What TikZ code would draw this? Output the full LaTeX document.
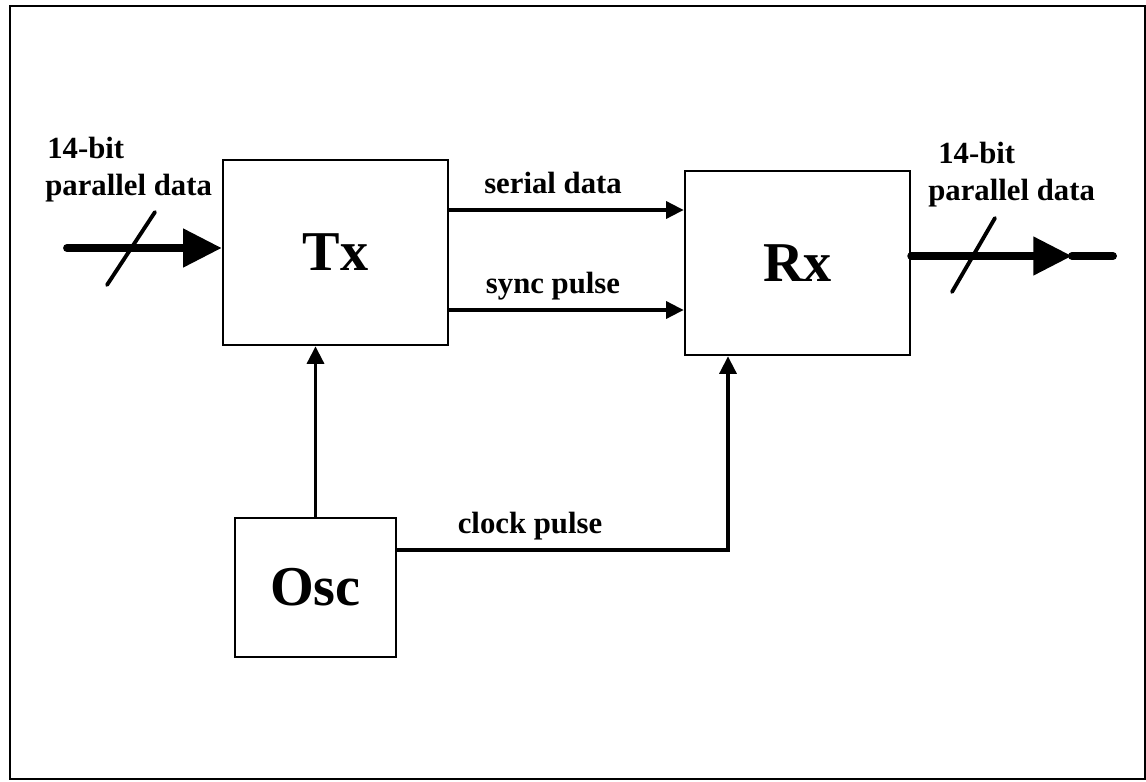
\documentclass[tikz,border=0pt]{standalone}
\usepackage{fontspec}
\setmainfont{Liberation Serif}
\usetikzlibrary{arrows.meta, positioning}

\begin{document}
\begin{tikzpicture}[x=0.02cm, y=-0.02cm,
  block/.style={draw, line width=1.4pt, font=\fontsize{32}{36}\selectfont\bfseries},
  sig/.style={line width=2.2pt, -{Triangle[length=10pt, width=9.5pt]}},
  bus/.style={line width=4.5pt, line cap=round},
  slash/.style={line width=2.2pt, line cap=round},
  lbl/.style={font=\fontsize{17.5}{21}\selectfont\bfseries, inner sep=0pt}]
\useasboundingbox (0,0) rectangle (1146,781);
\draw[line width=1pt] (10,6) rectangle (1145,779);
\node[block, minimum width=4.5cm, minimum height=3.7cm] (tx) at (335.5,252.5) {Tx};
\node[block, minimum width=4.5cm, minimum height=3.68cm] (rx) at (797.5,263) {Rx};
\node[block, minimum width=3.22cm, minimum height=2.78cm] (osc) at (315.5,587.5) {Osc};
\coordinate (in) at (67,248);
\coordinate (outtip) at (1072,256);
\coordinate (out) at (1113,256);
\coordinate (serial) at (0,210);
\coordinate (sync) at (0,310);
\coordinate (clk) at (728,550);
% parallel data in and out
\draw[bus, -{Triangle[length=22pt, width=21pt]}] (in) -- (tx.west |- in);
\draw[slash] (107,285) -- (155,212);
\draw[bus, -{Triangle[length=22pt, width=21pt]}] (rx.east |- out) -- (outtip);
\draw[bus] (outtip) -- (out);
\draw[slash] (952,292) -- (995,218);
% links
\draw[sig] (tx.east |- serial) -- (rx.west |- serial);
\draw[sig] (tx.east |- sync) -- (rx.west |- sync);
\draw[sig] (osc.north) -- (osc.north |- tx.south);
\draw[sig] (osc.east |- clk) -- (clk) -- (rx.south -| clk);
% labels
\node[lbl, anchor=base west] (inbits) at (47,158) {14-bit};
\node[lbl, anchor=base west] (indata) at (45,195) {parallel data};
\node[lbl, anchor=base west] (outbits) at (938,163) {14-bit};
\node[lbl, anchor=base west] (outdata) at (928,200) {parallel data};
\node[lbl, anchor=base] (serlbl) at (553,193) {serial data};
\node[lbl, anchor=base] (synclbl) at (553,293) {sync pulse};
\node[lbl, anchor=base] (clklbl) at (530,533) {clock pulse};
\end{tikzpicture}
\end{document}
